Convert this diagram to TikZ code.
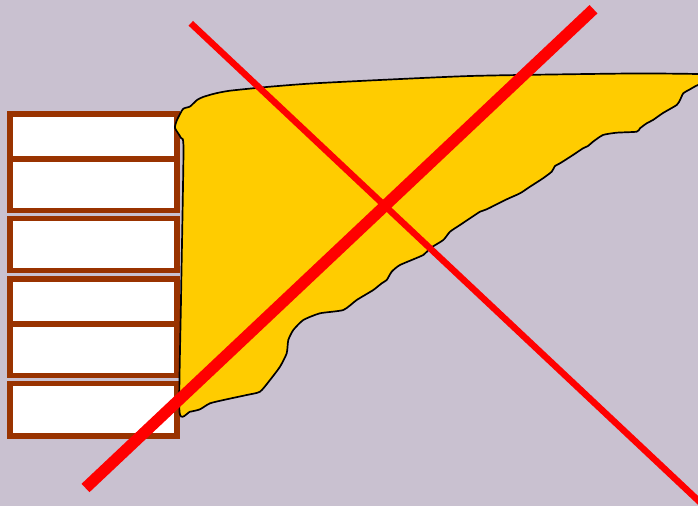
\documentclass[tikz,border=0pt]{standalone}
\usepackage{tikz}
\usetikzlibrary{positioning}
\definecolor{backdrop}{HTML}{C9C1D0}
\definecolor{liver}{HTML}{FFCC00}
\definecolor{brick}{HTML}{993300}
\definecolor{strike}{HTML}{FF0000}
\tikzset{
  cell/.style     = {rectangle, draw=brick, line width=4pt, fill=white,
                     inner sep=0pt, minimum width=4.18cm},
  blob/.style     = {draw=black, line width=1.2pt, fill=liver},
  thinstrike/.style  = {draw=strike, line width=4.6pt},
  thickstrike/.style = {draw=strike, line width=8.2pt},
}

\begin{document}
\begin{tikzpicture}[x=0.025cm, y=-0.025cm]

  \useasboundingbox (0,0) rectangle (698,506);
  \fill[backdrop] (0,0) rectangle (698,506);
  \clip (0,0) rectangle (698,506);

  % stacked cells on the left
  \node[cell, minimum height=1.121cm] (cell1) at (93.5,136.3) {};
  \node[cell, minimum height=1.295cm] (cell2) at (93.5,184.6) {};
  \node[cell, minimum height=1.298cm] (cell3) at (93.5,244.6) {};
  \node[cell, minimum height=1.120cm] (cell4) at (93.5,301.3) {};
  \node[cell, minimum height=1.295cm] (cell5) at (93.5,349.6) {};
  \node[cell, minimum height=1.305cm] (cell6) at (93.5,409.7) {};

  % the yellow shape
  \filldraw[blob] plot[smooth cycle, tension=0.35] coordinates {
    (179.5,412) (181,300) (183.5,150) (181,138) (175,128) (177,120)
    (183,109) (190,106.5) (197,100) (203,97) (215,93.5) (230,90.7)
    (270,86.7) (320,83) (470,76) (630,73.5) (698,74) (712,75) (712,82)
    (698,85) (690,89.3) (683.3,93.3) (680,100) (676.7,105) (663,113)
    (653,120) (646.7,123.3) (640,128.3) (636.7,131.7) (616.7,132.7)
    (603,135) (593,141.7) (588,146) (583,148.3) (573,155) (560,163.3)
    (555,166) (551.7,171.7) (543,178.3) (530,186.7) (520,193.3)
    (506.7,199.3) (486.7,209.3) (480,211.7) (460,225) (450,231.7)
    (443.3,240) (430,248.3) (423.3,255) (400,265) (391.7,271.7)
    (386.7,280) (381.7,283.3) (373.3,290) (356.7,300) (343.3,310)
    (320,313.3) (303.3,320) (293.3,330) (288.3,340) (286.7,353.3)
    (280,366.7) (270,380) (260,391.7) (246.7,395) (226.7,399.3)
    (210,403.3) (200,409.3) (190,411.7)};

  % the cross
  \coordinate (thinA) at (190.8,23.3);
  \coordinate (thinB) at (720,521);
  \coordinate (thickA) at (85.5,488);
  \coordinate (thickB) at (593.5,9.2);
  \draw[thinstrike] (thinA) -- (thinB);
  \draw[thickstrike] (thickA) -- (thickB);

\end{tikzpicture}
\end{document}
